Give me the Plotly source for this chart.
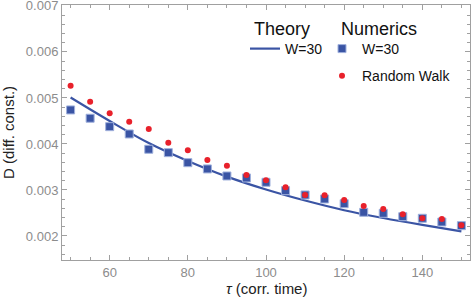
import plotly.graph_objects as go

# ---- data ----
tau = [50, 55, 60, 65, 70, 75, 80, 85, 90, 95, 100, 105, 110, 115, 120, 125, 130, 135, 140, 145, 150]
d_numerics = [0.004739, 0.004559, 0.004376, 0.004217, 0.003885, 0.003811, 0.003593, 0.003457,
              0.003304, 0.003261, 0.003167, 0.002985, 0.002891, 0.002804, 0.002702, 0.002515,
              0.002493, 0.002420, 0.002385, 0.002304, 0.002224]
d_random_walk = [0.005267, 0.004920, 0.004667, 0.004485, 0.004326, 0.004028, 0.003863, 0.003652,
                 0.003528, 0.003326, 0.003211, 0.003059, 0.002891, 0.002885, 0.002783, 0.002652,
                 0.002587, 0.002472, 0.002385, 0.002370, 0.002233]
tau_theory = [50, 60, 70, 80, 90, 100, 110, 120, 130, 140, 150]
d_theory = [0.00501, 0.00450, 0.00402, 0.00363, 0.00329, 0.00301, 0.00277, 0.00256,
            0.00239, 0.00224, 0.00210]

BLUE = "#3a54a4"
RED = "#e8212b"
GRAY = "#a0a0a0"
FONT = "Liberation Sans"

fig = go.Figure()
fig.add_trace(go.Scatter(
    x=tau_theory, y=d_theory, mode="lines", name="W=30",
    line=dict(color=BLUE, width=2.2, shape="spline"),
    legend="legend", legendgroup="theory"))
fig.add_trace(go.Scatter(
    x=tau, y=d_numerics, mode="markers", name="W=30",
    marker=dict(symbol="square", size=8, color=BLUE, line=dict(color="#9fb0dc", width=1)),
    legend="legend2", legendgroup="num"))
fig.add_trace(go.Scatter(
    x=tau, y=d_random_walk, mode="markers", name="Random Walk",
    marker=dict(symbol="circle", size=6, color=RED, line=dict(width=0)),
    legend="legend2", legendgroup="rw"))

axis_common = dict(
    showline=True, linecolor=GRAY, linewidth=1, mirror="allticks",
    ticks="inside", ticklen=5, tickcolor=GRAY, tickwidth=1,
    showgrid=False, zeroline=False, automargin=False,
    ticklabeloverflow="allow",
    tickfont=dict(family=FONT, size=13, color="#8c8c8c"),
)

fig.update_xaxes(
    range=[47.8, 152.2], tick0=0, dtick=20,
    minor=dict(ticks="inside", ticklen=3, tickcolor=GRAY, dtick=5, tick0=0, showgrid=False),
    **axis_common)
fig.update_yaxes(
    range=[0.001478, 0.00702], tick0=0, dtick=0.001, tickformat=".3f",
    minor=dict(ticks="inside", ticklen=3, tickcolor=GRAY, dtick=0.0002, tick0=0, showgrid=False),
    title=dict(text="D (diff. const.)", font=dict(family=FONT, size=15, color="#222")),
    **axis_common)

fig.add_annotation(
    text="<i>τ</i> (corr. time)", xref="paper", yref="paper", x=0.5, y=-0.11,
    xanchor="center", yanchor="middle", showarrow=False,
    font=dict(family=FONT, size=15, color="#222"))
fig.add_annotation(
    text="Theory", xref="paper", yref="paper", x=0.466, y=0.906,
    xanchor="left", yanchor="middle", showarrow=False,
    font=dict(family=FONT, size=18, color="#111"))
fig.add_annotation(
    text="Numerics", xref="paper", yref="paper", x=0.679, y=0.906,
    xanchor="left", yanchor="middle", showarrow=False,
    font=dict(family=FONT, size=18, color="#111"))

legend_common = dict(
    bgcolor="rgba(0,0,0,0)", borderwidth=0,
    font=dict(family=FONT, size=14, color="#111"),
    xanchor="left", yanchor="top", tracegroupgap=6, itemwidth=30,
    traceorder="grouped",
)
fig.update_layout(
    width=474, height=302,
    margin=dict(l=62, r=4, t=5, b=42),
    paper_bgcolor="white", plot_bgcolor="white",
    showlegend=True,
    legend=dict(x=(245 - 62) / 408, y=(260 - 33) / 255, **legend_common),
    legend2=dict(x=(322 - 62) / 408, y=(260 - 33) / 255, **legend_common),
)

fig.write_html("out.html", config={"displayModeBar": False},
               post_script="document.body.style.margin='0';window.dispatchEvent(new Event('resize'));")
